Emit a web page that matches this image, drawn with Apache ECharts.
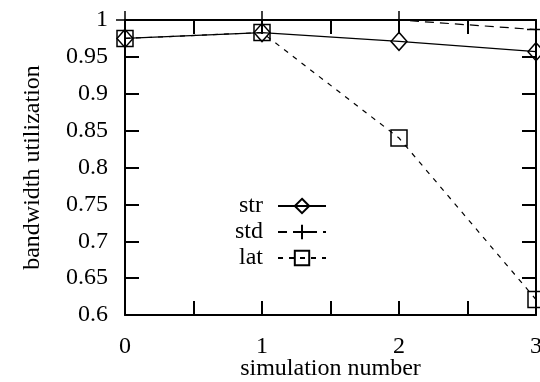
<!DOCTYPE html>
<html><head><meta charset="utf-8">
<script src="https://cdn.jsdelivr.net/npm/echarts@6/dist/echarts.min.js"></script>
<style>html,body{margin:0;padding:0;background:#fff}#c{width:540px;height:382px}</style>
</head><body><div id="c"></div>
<script>
var categories = [0, 1, 2, 3];
var strValues = [0.975, 0.983, 0.971, 0.957];
var stdValues = [1.0, 1.0, 1.0, 0.987];
var latValues = [0.975, 0.983, 0.840, 0.621];
var seriesNames = ['str', 'std', 'lat'];

var FONT = '"Liberation Serif", "DejaVu Serif", serif';
function pts(vals){ return categories.map(function(x,i){ return [x, vals[i]]; }); }
var tickStyle = {show:true, inside:true, length:14, lineStyle:{color:'#000', width:2}};
var axisLineStyle = {show:true, onZero:false, lineStyle:{color:'#000', width:2}};
var chart = echarts.init(document.getElementById('c'), null, {renderer:'canvas'});
chart.setOption({
  animation:false,
  backgroundColor:'#fff',
  textStyle:{fontFamily:FONT},
  grid:{left:125, right:4, top:20, bottom:67, containLabel:false, outerBoundsMode:'none'},
  legend:{
    orient:'vertical', left:230, top:189, align:'right',
    itemWidth:48, itemHeight:18, itemGap:2,
    textStyle:{fontFamily:FONT, fontSize:24, color:'#000', padding:[0,10,0,0]},
    data:seriesNames
  },
  xAxis:[{
    type:'value', min:0, max:3, interval:0.5, position:'bottom',
    name:'simulation number', nameLocation:'middle', nameGap:42, nameMoveOverlap:false,
    nameTextStyle:{fontFamily:FONT, fontSize:24, color:'#000'},
    axisLine:axisLineStyle, axisTick:tickStyle, splitLine:{show:false},
    axisLabel:{fontFamily:FONT, fontSize:24, color:'#000', margin:20,
      formatter:function(v){ return Math.abs(v-Math.round(v))<1e-9 ? String(Math.round(v)) : ''; }}
  },{
    type:'value', min:0, max:3, interval:0.5, position:'top',
    axisLine:axisLineStyle, axisTick:tickStyle, splitLine:{show:false}, axisLabel:{show:false}
  }],
  yAxis:[{
    type:'value', min:0.6, max:1, interval:0.05, position:'left',
    name:'bandwidth utilization', nameLocation:'middle', nameGap:80, nameMoveOverlap:false,
    nameTextStyle:{fontFamily:FONT, fontSize:24, color:'#000'},
    axisLine:axisLineStyle, axisTick:tickStyle, splitLine:{show:false},
    axisLabel:{fontFamily:FONT, fontSize:24, color:'#000', margin:17,
      formatter:function(v){ return String(parseFloat(v.toFixed(2))); }}
  },{
    type:'value', min:0.6, max:1, interval:0.05, position:'right',
    axisLine:axisLineStyle, axisTick:tickStyle, splitLine:{show:false}, axisLabel:{show:false}
  }],
  series:[{
    name:'str', type:'line', data:pts(strValues), clip:false,
    symbol:'diamond', symbolSize:[16,18],
    lineStyle:{color:'#000', width:1.2, type:'solid'},
    itemStyle:{color:'rgba(255,255,255,0)', borderColor:'#000', borderWidth:1.5}
  },{
    name:'std', type:'line', data:pts(stdValues), clip:false,
    symbol:'path://M0,5L10,5M5,0L5,10', symbolSize:18,
    lineStyle:{color:'#000', width:1.2, type:[9,6]},
    itemStyle:{color:'rgba(255,255,255,0)', borderColor:'#000', borderWidth:1.5}
  },{
    name:'lat', type:'line', data:pts(latValues), clip:false,
    symbol:'rect', symbolSize:16,
    lineStyle:{color:'#000', width:1.2, type:[5,6]},
    itemStyle:{color:'rgba(255,255,255,0)', borderColor:'#000', borderWidth:1.5}
  }]
});
</script></body></html>
